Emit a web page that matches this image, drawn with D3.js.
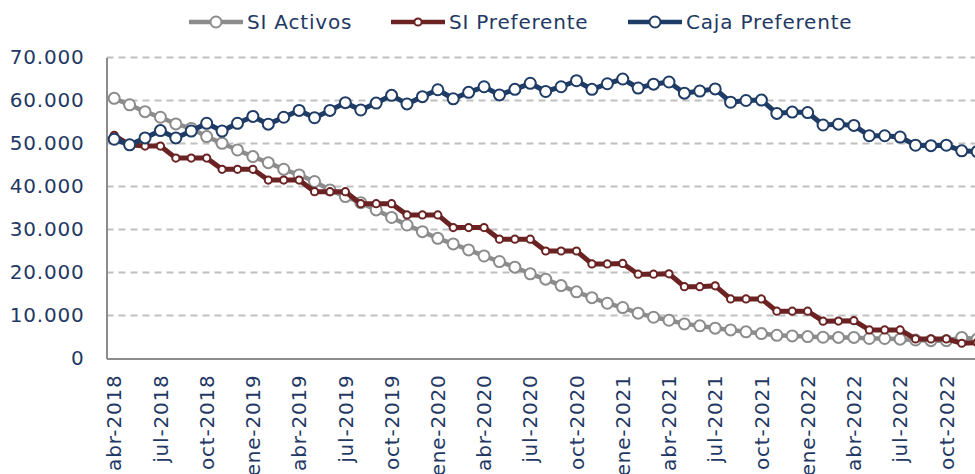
<!DOCTYPE html>
<html>
<head>
<meta charset="utf-8">
<script src="https://d3js.org/d3.v7.min.js"></script>
<style>
  body { margin: 0; background: #fff; }
  text { font-family: "DejaVu Sans", Verdana, sans-serif; letter-spacing: 0.8px; }
</style>
</head>
<body>
<div id="my_dataviz"></div>
<script>
// months on the x axis
const months = [
  "abr-2018", "may-2018", "jun-2018", "jul-2018", "ago-2018", "sep-2018", "oct-2018", "nov-2018", "dic-2018",
  "ene-2019", "feb-2019", "mar-2019", "abr-2019", "may-2019", "jun-2019", "jul-2019", "ago-2019", "sep-2019",
  "oct-2019", "nov-2019", "dic-2019", "ene-2020", "feb-2020", "mar-2020", "abr-2020", "may-2020", "jun-2020",
  "jul-2020", "ago-2020", "sep-2020", "oct-2020", "nov-2020", "dic-2020", "ene-2021", "feb-2021", "mar-2021",
  "abr-2021", "may-2021", "jun-2021", "jul-2021", "ago-2021", "sep-2021", "oct-2021", "nov-2021", "dic-2021",
  "ene-2022", "feb-2022", "mar-2022", "abr-2022", "may-2022", "jun-2022", "jul-2022", "ago-2022", "sep-2022",
  "oct-2022", "nov-2022", "dic-2022"
]

const siActivos = [
  60500, 59000, 57400, 56100, 54550, 53500, 51600, 50050, 48500,
  46950, 45550, 44000, 42700, 41150, 39200, 37650, 36250, 34550,
  32800, 31050, 29500, 27950, 26650, 25250, 23850, 22550, 21250,
  19700, 18450, 16950, 15500, 14150, 12850, 11850, 10550, 9600,
  8900, 8050, 7600, 7050, 6650, 6200, 5800, 5400, 5250,
  5100, 4950, 4900, 4900, 4650, 4650, 4500, 4300, 4150,
  4150, 4900, 4500
]

const siPreferente = [
  51900, 49700, 49400, 49400, 46600, 46600, 46600, 44000, 44000,
  44000, 41500, 41500, 41500, 38800, 38800, 38800, 36000, 36000,
  36000, 33400, 33400, 33400, 30450, 30450, 30450, 27750, 27750,
  27750, 25000, 25000, 25000, 22000, 22000, 22100, 19600, 19600,
  19700, 16700, 16700, 16900, 13850, 13850, 13850, 11000, 11000,
  11000, 8670, 8700, 8800, 6650, 6650, 6650, 4550, 4550,
  4550, 3550, 3700
]

const cajaPreferente = [
  51000, 49700, 51300, 53000, 51300, 52900, 54700, 52900, 54700,
  56300, 54500, 56100, 57700, 56000, 57700, 59500, 57800, 59400,
  61200, 59200, 60900, 62500, 60400, 61900, 63200, 61300, 62600,
  64000, 62100, 63200, 64600, 62600, 63900, 65000, 62900, 63800,
  64300, 61700, 62200, 62700, 59600, 60000, 60100, 57000, 57300,
  57200, 54300, 54500, 54200, 51800, 51800, 51500, 49600, 49500,
  49600, 48300, 48100
]

const yTicks = [0, 10000, 20000, 30000, 40000, 50000, 60000, 70000]

const seriesNames = ["SI Activos", "SI Preferente", "Caja Preferente"]
const seriesColors = ["#8c8c8c", "#6b2222", "#1f3c66"]

const width = 975,
  height = 474
const margin = { top: 57.5, left: 106.5, bottom: 115.5 }
const textColor = "#1f3864"

const svg = d3.select("#my_dataviz")
  .append("svg")
  .attr("width", width)
  .attr("height", height)

const x = d3.scaleBand()
  .domain(months)
  .range([margin.left, margin.left + months.length * 15.41])

const y = d3.scaleLinear()
  .domain([0, 70000])
  .range([height - margin.bottom, margin.top])

const fmt = d3.formatLocale({ decimal: ",", thousands: ".", grouping: [3], currency: ["", "€"] }).format(",")

// gridlines
svg.append("g")
  .selectAll("line")
  .data(yTicks.filter(function (d) { return d > 0 }))
  .join("line")
  .attr("x1", margin.left)
  .attr("x2", width)
  .attr("y1", function (d) { return y(d) })
  .attr("y2", function (d) { return y(d) })
  .attr("stroke", "#bfbfbf")
  .attr("stroke-width", 2)
  .attr("stroke-dasharray", "7,5")

// Y axis
svg.append("g")
  .attr("transform", `translate(${margin.left}, 0)`)
  .call(d3.axisLeft(y).tickValues(yTicks).tickFormat(fmt).tickSize(0).tickPadding(22))
  .call(function (g) { g.select(".domain").attr("stroke", "#8c8c8c").attr("stroke-width", 2) })
  .selectAll("text")
  .attr("fill", textColor)
  .style("font-size", "20px")

// X axis
svg.append("g")
  .attr("transform", `translate(0, ${y(0)})`)
  .call(d3.axisBottom(x).tickValues(months.filter(function (d, i) { return i % 3 === 0 })).tickSize(0))
  .call(function (g) { g.select(".domain").attr("stroke", "#8c8c8c").attr("stroke-width", 2) })
  .selectAll("text")
  .attr("fill", textColor)
  .style("font-size", "20px")
  .attr("text-anchor", "end")
  .attr("transform", "rotate(-90)")
  .attr("x", -16)
  .attr("y", 0)
  .attr("dy", "0.36em")

const allSeries = [siActivos, siPreferente, cajaPreferente]
const markerR = [5.5, 3.6, 5.5]
const lineW = [4.5, 5, 5]

const line = d3.line()
  .x(function (d, i) { return x(months[i]) + x.bandwidth() / 2 })
  .y(function (d) { return y(d) })

allSeries.forEach(function (values, k) {
  svg.append("path")
    .datum(values)
    .attr("fill", "none")
    .attr("stroke", seriesColors[k])
    .attr("stroke-width", lineW[k])
    .attr("stroke-linejoin", "round")
    .attr("d", line)

  svg.append("g")
    .selectAll("circle")
    .data(values)
    .join("circle")
    .attr("cx", function (d, i) { return x(months[i]) + x.bandwidth() / 2 })
    .attr("cy", function (d) { return y(d) })
    .attr("r", markerR[k])
    .attr("fill", "#fff")
    .attr("stroke", seriesColors[k])
    .attr("stroke-width", 2)
})

// legend
const legendX = [189, 391, 628]
const legend = svg.append("g")
  .selectAll("g")
  .data(seriesNames)
  .join("g")
  .attr("transform", function (d, i) { return `translate(${legendX[i]}, 22)` })

legend.append("line")
  .attr("x1", 0)
  .attr("x2", 54)
  .attr("stroke", function (d, i) { return seriesColors[i] })
  .attr("stroke-width", 4.5)
legend.append("circle")
  .attr("cx", 27)
  .attr("r", function (d, i) { return i === 1 ? 3.6 : 5.5 })
  .attr("fill", "#fff")
  .attr("stroke", function (d, i) { return seriesColors[i] })
  .attr("stroke-width", 2)
legend.append("text")
  .attr("x", 58)
  .attr("dy", "0.36em")
  .attr("fill", textColor)
  .style("font-size", "20px")
  .text(function (d) { return d })
</script>
</body>
</html>
